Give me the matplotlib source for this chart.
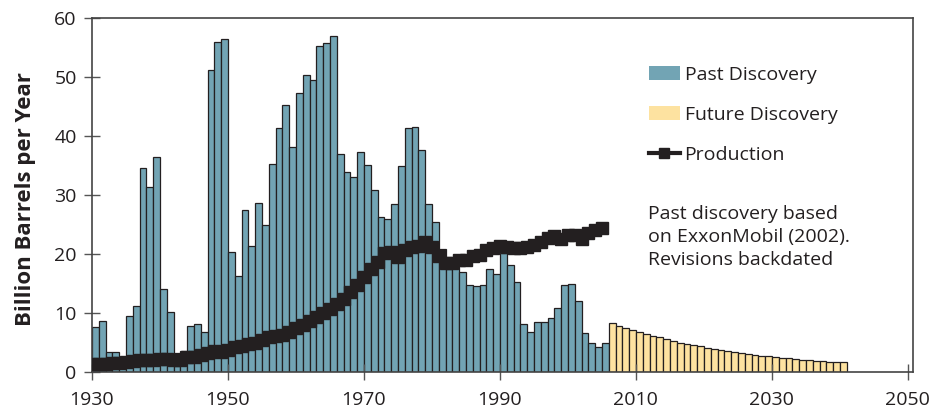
import numpy as np
import matplotlib.pyplot as plt
from matplotlib.patches import Patch
from matplotlib.lines import Line2D

plt.rcParams['font.family'] = ['Open Sans', 'DejaVu Sans']

# Past discovery, one value per year from 1930 to 2005
past_years = list(range(1930, 2006))
past_discovery = [
    7.7, 8.6, 3.4, 3.4, 2.6, 9.5, 11.2, 34.5, 31.4, 36.4,
    14.0, 10.2, 3.2, 3.5, 7.8, 8.1, 6.7, 51.2, 56.0, 56.5,
    20.4, 16.2, 27.4, 21.4, 28.7, 24.9, 35.3, 41.4, 45.2, 38.2,
    47.3, 50.3, 49.5, 55.3, 55.7, 57.0, 37.0, 33.9, 33.0, 37.3,
    35.0, 30.9, 26.3, 25.9, 28.4, 34.9, 41.3, 41.5, 37.6, 28.5,
    25.5, 20.8, 19.2, 18.4, 16.9, 14.7, 14.5, 14.8, 17.5, 16.6,
    20.1, 18.2, 15.2, 8.2, 6.8, 8.4, 8.4, 9.2, 10.9, 14.8,
    15.0, 12.0, 6.6, 4.9, 4.2, 5.0,
]

# Future discovery, 2006 to 2040
future_years = list(range(2006, 2041))
future_discovery = [
    8.25, 7.85, 7.45, 7.1, 6.8, 6.45, 6.15, 5.9, 5.55, 5.25,
    5.0, 4.8, 4.5, 4.35, 4.1, 3.95, 3.7, 3.55, 3.4, 3.2,
    3.05, 2.9, 2.75, 2.65, 2.55, 2.45, 2.3, 2.2, 2.1, 2.0,
    1.9, 1.85, 1.75, 1.7, 1.65,
]

# Production, 1930 to 2005
prod_years = list(range(1930, 2006))
production = [
    1.4, 1.4, 1.3, 1.5, 1.5, 1.7, 1.8, 2.0, 2.0, 2.1,
    2.2, 2.2, 2.0, 2.1, 2.5, 2.6, 2.9, 3.2, 3.5, 3.4,
    3.8, 4.2, 4.4, 4.7, 4.9, 5.5, 5.9, 6.1, 6.3, 6.8,
    7.4, 7.9, 8.6, 9.3, 10.0, 10.7, 11.6, 12.4, 13.5, 14.7,
    16.1, 17.4, 18.6, 20.2, 20.4, 19.5, 20.6, 21.2, 21.3, 22.1,
    21.2, 19.6, 18.4, 18.5, 18.9, 18.9, 19.7, 19.9, 20.6, 21.0,
    21.3, 21.2, 21.0, 21.0, 21.2, 21.5, 22.0, 22.7, 23.1, 22.5,
    23.3, 23.2, 22.5, 23.5, 24.1, 24.4,
]

past_color = '#72a4b4'
future_color = '#fde2a0'
ink = '#231f20'

fig = plt.figure(figsize=(9.32, 4.11), dpi=100)
ax = fig.add_axes([92 / 932, 39 / 411, 821 / 932, 354 / 411])

ax.bar(past_years, past_discovery, width=1.0, align='edge',
       color=past_color, edgecolor=ink, linewidth=0.9)
ax.bar(future_years, future_discovery, width=1.0, align='edge',
       color=future_color, edgecolor=ink, linewidth=0.9)
ax.plot(prod_years, production, color=ink, linewidth=4,
        marker='s', markersize=8, zorder=3)

ax.set_xlim(1930, 2050.75)
ax.set_ylim(0, 60)
ax.set_xticks(range(1930, 2051, 20))
ax.set_yticks(range(0, 61, 10))
ax.tick_params(direction='inout', length=12, width=1, color='#555555',
               labelsize=14, labelcolor=ink)
ax.tick_params(axis='x', pad=7.5)
ax.tick_params(axis='y', pad=5)
for s in ax.spines.values():
    s.set_color('#444444')
    s.set_linewidth(1.2)

ax.set_ylabel('Billion Barrels per Year', fontsize=16, fontweight='bold',
              color=ink)
ax.yaxis.set_label_coords(-0.068, 0.489)

handles = [
    Patch(facecolor=past_color, edgecolor='none', label='Past Discovery'),
    Patch(facecolor=future_color, edgecolor='none', label='Future Discovery'),
    Line2D([0], [0], color=ink, linewidth=3, marker='s', markersize=7,
           label='Production'),
]
leg = ax.legend(handles=handles, loc='upper left', bbox_to_anchor=(0.678, 0.864),
                frameon=False, fontsize=14, handlelength=1.6,
                handleheight=0.72, labelspacing=1.13, handletextpad=0.25,
                borderaxespad=0, borderpad=0)
for t in leg.get_texts():
    t.set_color(ink)

ax.text(0.677, 0.471, 'Past discovery based\non ExxonMobil (2002).\nRevisions backdated',
        transform=ax.transAxes, fontsize=14, color=ink, va='top', ha='left',
        linespacing=1.36)

fig.savefig('out.png', dpi=100)
